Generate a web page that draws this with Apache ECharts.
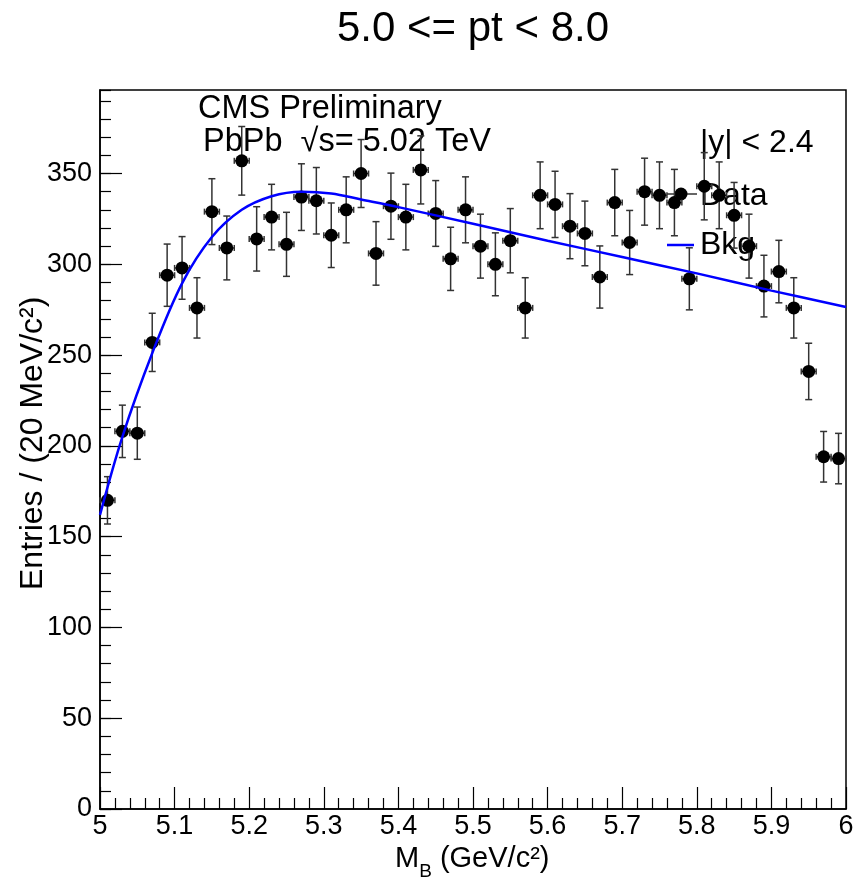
<!DOCTYPE html>
<html>
<head>
<meta charset="utf-8" />
<title>5.0 &lt;= pt &lt; 8.0</title>
<script src="https://cdn.jsdelivr.net/npm/echarts@6/dist/echarts.min.js"></script>
<style>
	* { margin: 0; padding: 0; }
	html, body { width: 853px; height: 878px; background: #fff; overflow: hidden; }
	#main { width: 853px; height: 878px; }
</style>
</head>
<body>
<div id="main"></div>
<script>
// bin centres (GeV/c2), 20 MeV bins
var massBins = [5.01, 5.03, 5.05, 5.07, 5.09, 5.11, 5.13, 5.15, 5.17, 5.19,
	5.21, 5.23, 5.25, 5.27, 5.29, 5.31, 5.33, 5.35, 5.37, 5.39,
	5.41, 5.43, 5.45, 5.47, 5.49, 5.51, 5.53, 5.55, 5.57, 5.59,
	5.61, 5.63, 5.65, 5.67, 5.69, 5.71, 5.73, 5.75, 5.77, 5.79,
	5.81, 5.83, 5.85, 5.87, 5.89, 5.91, 5.93, 5.95, 5.97, 5.99];
var entries = [170, 208, 207, 257, 294, 298, 276, 329, 309, 357,
	314, 326, 311, 337, 335, 316, 330, 350, 306, 332,
	326, 352, 328, 303, 330, 310, 300, 313, 276, 338,
	333, 321, 317, 293, 334, 312, 340, 338, 334, 292,
	343, 338, 327, 310, 288, 296, 276, 241, 194, 193];
var binWidth = 0.02;

// background fit
var bkgMass = [5.00, 5.03, 5.07, 5.11, 5.15, 5.19, 5.23, 5.27, 5.31, 5.35, 5.40, 5.50, 5.60, 5.70, 5.80, 5.90, 6.00];
var bkgFit  = [162, 205, 251, 289.5, 315, 330, 337.5, 340, 339, 335.7, 331.5, 322.3, 313, 304, 295, 285.5, 276.5];

var xTickLabels = ['5', '5.1', '5.2', '5.3', '5.4', '5.5', '5.6', '5.7', '5.8', '5.9', '6'];
var yTickLabels = ['0', '50', '100', '150', '200', '250', '300', '350'];

var FONT = '"Liberation Sans", Arial, Helvetica, sans-serif';

var pointData = [];
for (var i = 0; i < massBins.length; i++) {
	pointData.push([massBins[i], entries[i], Math.sqrt(entries[i])]);
}
var fitData = [];
for (var j = 0; j < bkgMass.length; j++) {
	fitData.push([bkgMass[j], bkgFit[j]]);
}

function drawPoint(params, api) {
	var x = api.value(0), y = api.value(1), err = api.value(2);
	var c = api.coord([x, y]);
	var up = api.coord([x, y + err]);
	var dn = api.coord([x, y - err]);
	var lf = api.coord([x - binWidth / 2, y]);
	var rt = api.coord([x + binWidth / 2, y]);
	var st = { stroke: '#333', lineWidth: 1.5 };
	return {
		type: 'group',
		children: [
			{ type: 'line', shape: { x1: c[0], y1: up[1], x2: c[0], y2: dn[1] }, style: st },
			{ type: 'line', shape: { x1: c[0] - 3.5, y1: up[1], x2: c[0] + 3.5, y2: up[1] }, style: st },
			{ type: 'line', shape: { x1: c[0] - 3.5, y1: dn[1], x2: c[0] + 3.5, y2: dn[1] }, style: st },
			{ type: 'line', shape: { x1: lf[0], y1: c[1], x2: rt[0], y2: c[1] }, style: st },
			{ type: 'line', shape: { x1: lf[0], y1: c[1] - 3, x2: lf[0], y2: c[1] + 3 }, style: st },
			{ type: 'line', shape: { x1: rt[0], y1: c[1] - 3, x2: rt[0], y2: c[1] + 3 }, style: st },
			{ type: 'circle', shape: { cx: c[0], cy: c[1], r: 6.5 }, style: { fill: '#000' } }
		]
	};
}

var myChart = echarts.init(document.getElementById('main'));
myChart.setOption({
	animation: false,
	backgroundColor: '#fff',
	grid: {
		left: 100, right: 7, top: 90, bottom: 69,
		containLabel: false,
		outerBoundsMode: 'none',
		show: true,
		borderColor: '#000',
		borderWidth: 1.5
	},
	xAxis: {
		type: 'value',
		min: 5, max: 6, interval: 0.1,
		axisLine: { show: true, onZero: false, lineStyle: { color: '#000', width: 1.5 } },
		axisTick: { inside: true, length: 22, lineStyle: { color: '#000', width: 1.2 } },
		minorTick: { show: true, splitNumber: 5, length: 11, lineStyle: { color: '#000', width: 1.2 } },
		axisLabel: {
			margin: 4, color: '#000', fontSize: 27, fontFamily: FONT,
			formatter: function (v) { return xTickLabels[Math.round((v - 5) * 10)]; }
		},
		splitLine: { show: false }
	},
	yAxis: [{
		type: 'value',
		min: 0, max: 396, interval: 50,
		axisLine: { show: true, onZero: false, lineStyle: { color: '#000', width: 1.5 } },
		axisTick: { inside: true, length: 22, lineStyle: { color: '#000', width: 1.2 } },
		axisLabel: {
			margin: 8, color: '#000', fontSize: 27, fontFamily: FONT, showMaxLabel: false,
			formatter: function (v) { var k = Math.round(v / 50); return v % 50 === 0 ? yTickLabels[k] : ''; }
		},
		splitLine: { show: false }
	}, {
		// minor ticks every 10 entries
		type: 'value', position: 'left',
		min: 0, max: 396, interval: 10,
		axisLine: { show: false },
		axisTick: { inside: true, length: 11, lineStyle: { color: '#000', width: 1.2 } },
		axisLabel: { show: false },
		splitLine: { show: false }
	}],
	series: [{
		name: 'Data',
		type: 'custom',
		renderItem: drawPoint,
		data: pointData,
		encode: { x: 0, y: 1 },
		z: 2
	}, {
		name: 'Bkg',
		type: 'line',
		data: fitData,
		smooth: 0.35,
		showSymbol: false,
		symbol: 'none',
		lineStyle: { color: '#0000ff', width: 2.5 },
		z: 3
	}],
	graphic: [
		{ type: 'text', x: 473, y: 29, style: { text: '5.0 <= pt < 8.0', fontSize: 42, fontFamily: FONT, fill: '#000', align: 'center', verticalAlign: 'middle' } },
		{ type: 'text', x: 198, y: 109, style: { text: 'CMS Preliminary', fontSize: 32.5, fontFamily: FONT, fill: '#000', align: 'left', verticalAlign: 'middle' } },
		{ type: 'text', x: 203, y: 142, style: { text: 'PbPb  √s= 5.02 TeV', fontSize: 32.5, fontFamily: FONT, fill: '#000', align: 'left', verticalAlign: 'middle' } },
		{ type: 'text', x: 700, y: 143, style: { text: '|y| < 2.4', fontSize: 32, fontFamily: FONT, fill: '#000', align: 'left', verticalAlign: 'middle' } },
		// legend
		{ type: 'line', shape: { x1: 667, y1: 194, x2: 697, y2: 194 }, style: { stroke: '#333', lineWidth: 1.5 } },
		{ type: 'circle', shape: { cx: 681, cy: 194, r: 6.5 }, style: { fill: '#000' } },
		{ type: 'text', x: 700, y: 196, style: { text: 'Data', fontSize: 32, fontFamily: FONT, fill: '#000', align: 'left', verticalAlign: 'middle' } },
		{ type: 'line', shape: { x1: 667, y1: 245, x2: 694, y2: 245 }, style: { stroke: '#0000ff', lineWidth: 2.5 } },
		{ type: 'text', x: 700, y: 245, style: { text: 'Bkg', fontSize: 32, fontFamily: FONT, fill: '#000', align: 'left', verticalAlign: 'middle' } },
		// axis titles
		{ type: 'text', x: 33, y: 590, rotation: Math.PI / 2, style: { text: 'Entries / (20 MeV/c²)', fontSize: 32, fontFamily: FONT, fill: '#000', align: 'left', verticalAlign: 'middle' } },
		{
			type: 'text', x: 395, y: 863,
			style: {
				text: '{a|M}{b|B}{a| (GeV/c²)}',
				fontFamily: FONT, fill: '#000', align: 'left', verticalAlign: 'middle',
				rich: {
					a: { fontSize: 29, fontFamily: FONT, fill: '#000', verticalAlign: 'bottom', padding: [0, 0, 8, 0] },
					b: { fontSize: 19, fontFamily: FONT, fill: '#000', verticalAlign: 'bottom' }
				}
			}
		}
	]
});
</script>
</body>
</html>
